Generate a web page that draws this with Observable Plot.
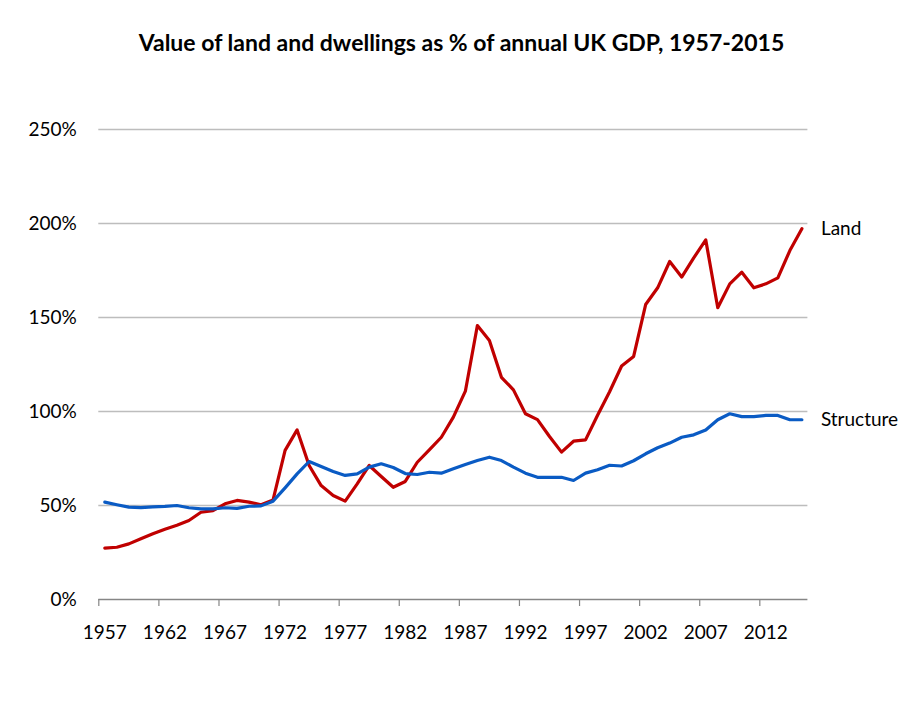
<!DOCTYPE html>
<html>
<head>
<meta charset="utf-8">
<script src="https://cdn.jsdelivr.net/npm/d3@7"></script>
<script src="https://cdn.jsdelivr.net/npm/@observablehq/plot@0.6"></script>
<style>
  html, body { margin: 0; padding: 0; background: #fff; }
  #title { height: 80px; width: 923px; text-align: center; font-family: Lato, "Open Sans", sans-serif; font-weight: bold; font-size: 23px; line-height: 84px; color: #000; }
  svg { display: block; }
</style>
</head>
<body>
<div id="title">Value of land and dwellings as % of annual UK GDP, 1957-2015</div>
<div id="chart"></div>
<script>
const years = d3.range(1957, 2016);
const land = [27.3, 27.8, 29.6, 32.3, 35.0, 37.4, 39.5, 42.0, 46.4, 47.3,
  50.9, 52.7, 51.8, 50.4, 53.0, 79.3, 90.2, 71.3, 60.6, 55.3,
  52.3, 61.5, 71.3, 65.4, 59.7, 62.8, 73.0, 79.6, 86.3, 97.0,
  110.8, 145.7, 137.8, 118.2, 111.5, 98.8, 95.7, 86.7, 78.4, 84.2,
  84.9, 98.0, 110.5, 124.2, 129.3, 156.9, 165.8, 179.8, 171.5, 181.7,
  191.3, 155.2, 167.9, 174.1, 165.8, 167.9, 171.1, 185.6, 197.2];
const structure = [51.8, 50.4, 49.1, 48.9, 49.3, 49.5, 50.0, 48.8, 48.2, 48.2,
  48.8, 48.5, 49.6, 49.8, 52.3, 59.4, 66.8, 73.4, 70.7, 68.1,
  66.0, 66.8, 70.4, 72.2, 70.2, 67.0, 66.5, 67.7, 67.2, 69.5,
  71.8, 73.9, 75.7, 73.9, 70.4, 67.2, 65.0, 65.0, 65.0, 63.3,
  67.2, 69.0, 71.4, 71.0, 73.8, 77.5, 80.7, 83.2, 86.3, 87.6,
  90.2, 95.6, 98.8, 97.3, 97.3, 97.9, 97.9, 95.6, 95.6];
const seriesNames = ["Land", "Structure"];
const seriesColors = ["#C00000", "#0A5BC4"];
const yTicks = [0, 50, 100, 150, 200, 250];
const xLabelYears = [1957, 1962, 1967, 1972, 1977, 1982, 1987, 1992, 1997, 2002, 2007, 2012];

const rows = [];
years.forEach((yr, i) => {
  rows.push({year: yr, value: land[i], series: seriesNames[0]});
  rows.push({year: yr, value: structure[i], series: seriesNames[1]});
});
const last = rows.filter(d => d.year === years[years.length - 1]);
const tickBounds = xLabelYears.map(y => y - 0.5);

const font = "Lato, 'Open Sans', sans-serif";
const chart = Plot.plot({
  width: 923,
  height: 600,
  marginLeft: 98.3,
  marginRight: 115.6,
  marginTop: 49,
  marginBottom: 81,
  style: {fontFamily: font, fontSize: "19px", color: "#000", background: "#fff"},
  x: {domain: [1956.5, 2015.5], label: null},
  y: {domain: [0, 250], label: null},
  color: {domain: seriesNames, range: seriesColors},
  marks: [
    Plot.ruleY(yTicks.filter(v => v > 0), {stroke: "#bdbdbd", strokeWidth: 1.6}),
    Plot.ruleY([0], {stroke: "#868686", strokeWidth: 1.3}),
    Plot.axisX({ticks: tickBounds, tickSize: 7, tickFormat: () => "", stroke: "#868686", strokeWidth: 1.2, label: null}),
    Plot.axisX({ticks: xLabelYears, tickSize: 0, tickPadding: 26, tickFormat: d => String(d), fontSize: 19, fill: "#000", label: null}),
    Plot.axisY({ticks: yTicks, tickSize: 0, tickPadding: 22, tickFormat: d => d + "%", fontSize: 19, fill: "#000", label: null}),
    Plot.line(rows, {x: "year", y: "value", z: "series", stroke: "series", strokeWidth: 3.2, strokeLinejoin: "round", strokeLinecap: "round"}),
    Plot.text(last, {x: "year", y: "value", text: "series", dx: 19, textAnchor: "start", fontSize: 19, fill: "#000"})
  ]
});
document.getElementById("chart").appendChild(chart);
</script>
</body>
</html>
